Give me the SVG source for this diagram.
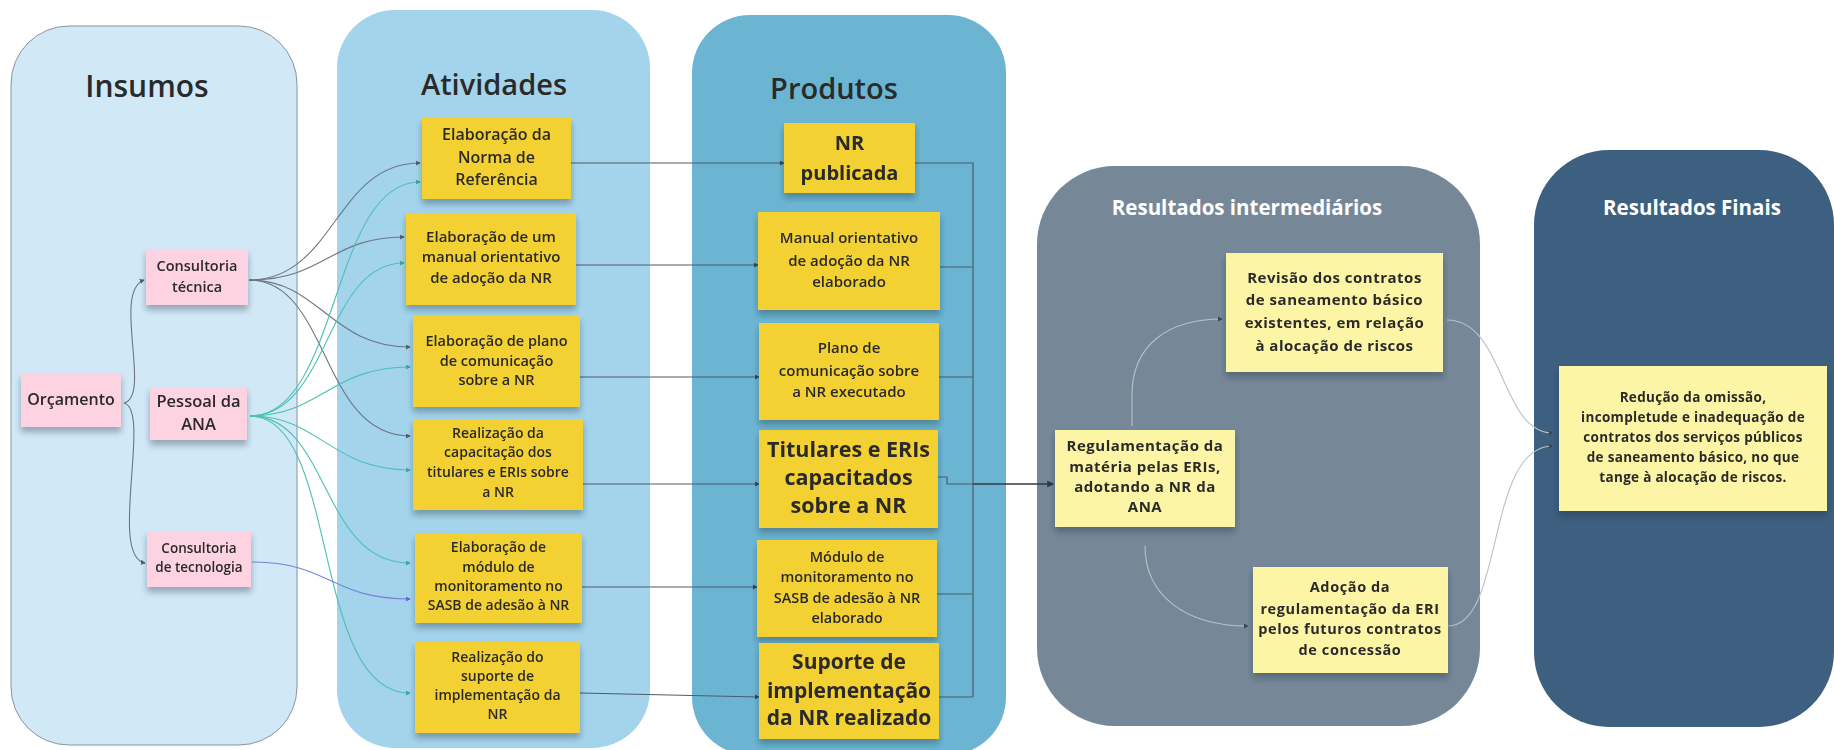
<svg xmlns="http://www.w3.org/2000/svg" width="1834" height="750" viewBox="0 0 1834 750">
<defs>
<style>
.t{font-family:"Open Sans","Noto Sans","Liberation Sans",sans-serif;font-weight:600;fill:#2a2a2a;text-anchor:middle}
.b{font-weight:700}
.w{fill:#ffffff;font-weight:700}
.y{fill:#f4d133}
.p{fill:#fdd3e2}
.ly{fill:#fcf5a6}
.cg{fill:none;stroke:#6c7680;stroke-width:1.1}
.ct{fill:none;stroke:#4cc0b3;stroke-width:1.1}
.cb{fill:none;stroke:#7783d6;stroke-width:1.1}
.cd{fill:none;stroke:#4d5c6b;stroke-width:1.2}
.cl{fill:none;stroke:#b9c1c8;stroke-width:1.1}
</style>
<filter id="sh" x="-10%" y="-10%" width="120%" height="140%">
<feDropShadow dx="0" dy="5" stdDeviation="3" flood-color="#1e2a35" flood-opacity="0.35"/>
</filter>
<marker id="ag" viewBox="0 0 6 6" refX="5" refY="3" markerWidth="5" markerHeight="5" markerUnits="userSpaceOnUse" orient="auto"><path d="M0,0L6,3L0,6z" fill="#555f69"/></marker>
<marker id="at" viewBox="0 0 6 6" refX="5" refY="3" markerWidth="5" markerHeight="5" markerUnits="userSpaceOnUse" orient="auto"><path d="M0,0L6,3L0,6z" fill="#3aa99c"/></marker>
<marker id="ab" viewBox="0 0 6 6" refX="5" refY="3" markerWidth="5" markerHeight="5" markerUnits="userSpaceOnUse" orient="auto"><path d="M0,0L6,3L0,6z" fill="#5d6ad0"/></marker>
<marker id="ad" viewBox="0 0 6 6" refX="5" refY="3" markerWidth="7" markerHeight="7" markerUnits="userSpaceOnUse" orient="auto"><path d="M0,0L6,3L0,6z" fill="#2f3a45"/></marker>
<marker id="al" viewBox="0 0 6 6" refX="5" refY="3" markerWidth="5" markerHeight="5" markerUnits="userSpaceOnUse" orient="auto"><path d="M0,0L6,3L0,6z" fill="#3a4650"/></marker>
</defs>
<rect width="1834" height="750" fill="#ffffff"/>

<g id="panels">
<rect id="panel-insumos" x="11" y="26" width="286" height="719" rx="58" fill="#d1e8f7" stroke="#8a949c" stroke-width="1"/>
<rect id="panel-atividades" x="337" y="10" width="313" height="738" rx="58" fill="#a4d4eb"/>
<rect id="panel-produtos" x="692" y="15" width="314" height="740" rx="58" fill="#6bb5d3"/>
<rect id="panel-ri" x="1037" y="166" width="443" height="560" rx="78" fill="#768898"/>
<rect id="panel-rf" x="1534" y="150" width="300" height="577" rx="75" fill="#3d5f80"/>
<text class="t" x="147" y="97" font-size="30">Insumos</text>
<text class="t" x="494" y="95" font-size="29">Atividades</text>
<text class="t" x="834" y="99" font-size="29">Produtos</text>
<text class="t w" x="1247" y="215" font-size="20.5">Resultados intermediários</text>
<text class="t w" x="1692" y="215" font-size="20.5">Resultados Finais</text>
</g>

<g id="connectors">
<path class="cg" d="M124,403 C152,396 112,292 144,280" marker-end="url(#ag)"/>
<path class="cg" d="M124,403 C152,410 108,556 145,563" marker-end="url(#ag)"/>
<path class="cg" d="M249,280 C335,280 335,163 420,163" marker-end="url(#ag)"/>
<path class="cg" d="M249,280 C325,280 330,237 404,237" marker-end="url(#ag)"/>
<path class="cg" d="M249,280 C320,280 330,347 410,347" marker-end="url(#ag)"/>
<path class="cg" d="M249,280 C330,280 320,436 410,436" marker-end="url(#ag)"/>
<path class="ct" d="M250,416 C340,416 330,182 420,182" marker-end="url(#at)"/>
<path class="ct" d="M250,416 C330,416 325,263 404,263" marker-end="url(#at)"/>
<path class="ct" d="M250,416 C320,416 330,367 410,367" marker-end="url(#at)"/>
<path class="ct" d="M250,416 C320,416 330,470 410,470" marker-end="url(#at)"/>
<path class="ct" d="M250,416 C330,416 320,563 410,563" marker-end="url(#at)"/>
<path class="ct" d="M250,416 C340,416 310,693 410,693" marker-end="url(#at)"/>
<path class="cb" d="M252,562 C330,562 330,599 410,599" marker-end="url(#ab)"/>

<path class="cd" d="M571,163 L784,163" marker-end="url(#al)"/>
<path class="cd" d="M576,265 L758,265" marker-end="url(#al)"/>
<path class="cd" d="M580,377 L759,377" marker-end="url(#al)"/>
<path class="cd" d="M583,484 L759,484" marker-end="url(#al)"/>
<path class="cd" d="M582,587 L757,587" marker-end="url(#al)"/>
<path class="cd" d="M580,693 L759,697" marker-end="url(#al)"/>

<path class="cd" d="M915,163 L973,163 L973,697"/>
<path class="cd" d="M940,267 L973,267"/>
<path class="cd" d="M939,377 L973,377"/>
<path class="cd" d="M938,477 L947,477 L947,484 L973,484"/>
<path class="cd" d="M937,594 L973,594"/>
<path class="cd" d="M939,697 L973,697"/>
<path fill="none" stroke="#2f3a45" stroke-width="1.6" d="M973,484 L1053,484" marker-end="url(#ad)"/>

<path class="cl" d="M1132,426 L1132,395 C1132,345 1168,319 1222,319" marker-end="url(#al)"/>
<path class="cl" d="M1145,546 C1145,595 1185,626 1248,626" marker-end="url(#al)"/>
<path class="cl" d="M1447,320 C1505,320 1500,433 1553,433" marker-end="url(#al)"/>
<path class="cl" d="M1448,626 C1505,626 1485,446 1553,446" marker-end="url(#al)"/>
</g>

<g id="orcamento" filter="url(#sh)"><rect class="p" x="21" y="373" width="100" height="54"/>
<text class="t" x="71" y="405" font-size="16">Orçamento</text></g>
<g id="consultoria-tecnica" filter="url(#sh)"><rect class="p" x="146" y="249" width="102" height="56"/>
<text class="t" x="197" y="271" font-size="14.5">Consultoria</text><text class="t" x="197" y="292" font-size="14.5">técnica</text></g>
<g id="pessoal-ana" filter="url(#sh)"><rect class="p" x="150" y="387" width="97" height="53"/>
<text class="t" x="198.5" y="407" font-size="16.5">Pessoal da</text><text class="t" x="198.5" y="430" font-size="16.5">ANA</text></g>
<g id="consultoria-tecnologia" filter="url(#sh)"><rect class="p" x="147" y="531" width="104" height="56"/>
<text class="t" x="199" y="553" font-size="13.5">Consultoria</text><text class="t" x="199" y="572" font-size="13.5">de tecnologia</text></g>

<g id="at1" filter="url(#sh)"><rect class="y" x="422" y="118" width="149" height="81"/>
<text class="t" x="496.5" y="140" font-size="16">Elaboração da</text><text class="t" x="496.5" y="163" font-size="16">Norma de</text><text class="t" x="496.5" y="185" font-size="16">Referência</text></g>
<g id="at2" filter="url(#sh)"><rect class="y" x="406" y="213" width="170" height="92"/>
<text class="t" x="491" y="242" font-size="15">Elaboração de um</text><text class="t" x="491" y="262" font-size="15">manual orientativo</text><text class="t" x="491" y="283" font-size="15">de adoção da NR</text></g>
<g id="at3" filter="url(#sh)"><rect class="y" x="413" y="316" width="167" height="91"/>
<text class="t" x="496.5" y="346" font-size="14.5">Elaboração de plano</text><text class="t" x="496.5" y="366" font-size="14.5">de comunicação</text><text class="t" x="496.5" y="385" font-size="14.5">sobre a NR</text></g>
<g id="at4" filter="url(#sh)"><rect class="y" x="413" y="419" width="170" height="91"/>
<text class="t" x="498" y="438" font-size="14">Realização da</text><text class="t" x="498" y="457" font-size="14">capacitação dos</text><text class="t" x="498" y="477" font-size="14">titulares e ERIs sobre</text><text class="t" x="498" y="497" font-size="14">a NR</text></g>
<g id="at5" filter="url(#sh)"><rect class="y" x="415" y="533" width="167" height="90"/>
<text class="t" x="498.5" y="552" font-size="14">Elaboração de</text><text class="t" x="498.5" y="572" font-size="14">módulo de</text><text class="t" x="498.5" y="591" font-size="14">monitoramento no</text><text class="t" x="498.5" y="610" font-size="14">SASB de adesão à NR</text></g>
<g id="at6" filter="url(#sh)"><rect class="y" x="415" y="642" width="165" height="91"/>
<text class="t" x="497.5" y="662" font-size="14">Realização do</text><text class="t" x="497.5" y="681" font-size="14">suporte de</text><text class="t" x="497.5" y="700" font-size="14">implementação da</text><text class="t" x="497.5" y="719" font-size="14">NR</text></g>

<g id="pr1" filter="url(#sh)"><rect class="y" x="784" y="123" width="131" height="70"/>
<text class="t b" x="849.5" y="150" font-size="20">NR</text><text class="t b" x="849.5" y="180" font-size="20">publicada</text></g>
<g id="pr2" filter="url(#sh)"><rect class="y" x="758" y="212" width="182" height="98"/>
<text class="t" x="849" y="243" font-size="15">Manual orientativo</text><text class="t" x="849" y="266" font-size="15">de adoção da NR</text><text class="t" x="849" y="287" font-size="15">elaborado</text></g>
<g id="pr3" filter="url(#sh)"><rect class="y" x="759" y="323" width="180" height="97"/>
<text class="t" x="849" y="353" font-size="15">Plano de</text><text class="t" x="849" y="376" font-size="15">comunicação sobre</text><text class="t" x="849" y="397" font-size="15">a NR executado</text></g>
<g id="pr4" filter="url(#sh)"><rect class="y" x="759" y="430" width="179" height="98"/>
<text class="t b" x="848.5" y="457" font-size="21.5">Titulares e ERIs</text><text class="t b" x="848.5" y="485" font-size="21.5">capacitados</text><text class="t b" x="848.5" y="513" font-size="21.5">sobre a NR</text></g>
<g id="pr5" filter="url(#sh)"><rect class="y" x="757" y="540" width="180" height="97"/>
<text class="t" x="847" y="562" font-size="14.5">Módulo de</text><text class="t" x="847" y="582" font-size="14.5">monitoramento no</text><text class="t" x="847" y="603" font-size="14.5">SASB de adesão à NR</text><text class="t" x="847" y="623" font-size="14.5">elaborado</text></g>
<g id="pr6" filter="url(#sh)"><rect class="y" x="759" y="643" width="180" height="96"/>
<text class="t b" x="849" y="669" font-size="21">Suporte de</text><text class="t b" x="849" y="698" font-size="21">implementação</text><text class="t b" x="849" y="725" font-size="21">da NR realizado</text></g>

<g id="ri-regulamentacao" filter="url(#sh)"><rect class="ly" x="1055" y="430" width="180" height="97"/>
<text class="t b" x="1145" y="451" font-size="15" letter-spacing="0.5">Regulamentação da</text><text class="t b" x="1145" y="472" font-size="15" letter-spacing="0.5">matéria pelas ERIs,</text><text class="t b" x="1145" y="492" font-size="15" letter-spacing="0.5">adotando a NR da</text><text class="t b" x="1145" y="512" font-size="15" letter-spacing="0.5">ANA</text></g>
<g id="ri-revisao" filter="url(#sh)"><rect class="ly" x="1226" y="253" width="217" height="119"/>
<text class="t b" x="1334.5" y="283" font-size="15" letter-spacing="0.5">Revisão dos contratos</text><text class="t b" x="1334.5" y="305" font-size="15" letter-spacing="0.5">de saneamento básico</text><text class="t b" x="1334.5" y="328" font-size="15" letter-spacing="0.5">existentes, em relação</text><text class="t b" x="1334.5" y="351" font-size="15" letter-spacing="0.5">à alocação de riscos</text></g>
<g id="ri-adocao" filter="url(#sh)"><rect class="ly" x="1253" y="567" width="195" height="106"/>
<text class="t b" x="1350" y="592" font-size="14.5" letter-spacing="0.6">Adoção da</text><text class="t b" x="1350" y="614" font-size="14.5" letter-spacing="0.6">regulamentação da ERI</text><text class="t b" x="1350" y="634" font-size="14.5" letter-spacing="0.6">pelos futuros contratos</text><text class="t b" x="1350" y="655" font-size="14.5" letter-spacing="0.6">de concessão</text></g>
<g id="rf-reducao" filter="url(#sh)"><rect class="ly" x="1559" y="366" width="268" height="145"/>
<text class="t b" x="1693" y="402" font-size="13.5" letter-spacing="0.3">Redução da omissão,</text><text class="t b" x="1693" y="422" font-size="13.5" letter-spacing="0.3">incompletude e inadequação de</text><text class="t b" x="1693" y="442" font-size="13.5" letter-spacing="0.3">contratos dos serviços públicos</text><text class="t b" x="1693" y="462" font-size="13.5" letter-spacing="0.3">de saneamento básico, no que</text><text class="t b" x="1693" y="482" font-size="13.5" letter-spacing="0.3">tange à alocação de riscos.</text></g>
</svg>
